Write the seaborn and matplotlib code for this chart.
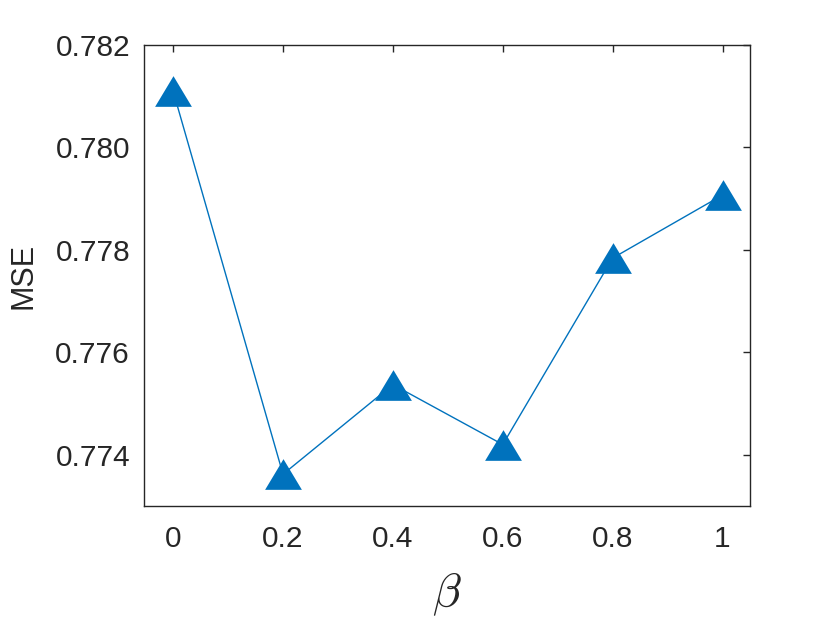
import matplotlib
matplotlib.use("Agg")
import matplotlib.pyplot as plt
import seaborn as sns
import pandas as pd

beta = [0.0, 0.2, 0.4, 0.6, 0.8, 1.0]
mse = [0.78110, 0.77362, 0.77537, 0.77420, 0.77784, 0.77907]
yticks = [0.774, 0.776, 0.778, 0.780, 0.782]
xticks = [0, 0.2, 0.4, 0.6, 0.8, 1]
xtick_labels = ["0", "0.2", "0.4", "0.6", "0.8", "1"]

sns.set_style("white")
plt.rcParams["font.family"] = ["Liberation Sans", "DejaVu Sans"]
plt.rcParams["mathtext.fontset"] = "cm"

df = pd.DataFrame({"beta": beta, "mse": mse})

fig = plt.figure(figsize=(8.30, 6.21), dpi=100)
ax = fig.add_axes([144/830, 1-506/621, (750-144)/830, (506-45)/621])

tri = [(0, 0.5), (-0.6, -0.5), (0.6, -0.5)]
sns.lineplot(data=df, x="beta", y="mse", ax=ax, color="#0072BD", lw=1.0,
             marker=tri, markersize=26.5, markeredgewidth=0,
             markerfacecolor="#0072BD")

ax.set_xlim(-0.053, 1.05)
ax.set_ylim(0.773, 0.782)
ax.set_xticks(xticks)
ax.set_xticklabels(xtick_labels)
ax.set_yticks(yticks)
ax.set_yticklabels([f"{v:.3f}" for v in yticks])

ax.tick_params(axis="both", direction="in", length=5, width=1, color="#262626",
               labelsize=21.5, labelcolor="#262626", top=True, right=True)
ax.tick_params(axis="x", pad=14)
ax.tick_params(axis="y", pad=10)
for s in ax.spines.values():
    s.set_color("#262626")
    s.set_linewidth(1.0)
    s.set_visible(True)

ax.set_xlabel(r"$\beta$", fontsize=34, color="#262626", labelpad=12)
ax.set_ylabel("MSE", fontsize=22, color="#262626", labelpad=12)

fig.savefig("out.png", dpi=100)
